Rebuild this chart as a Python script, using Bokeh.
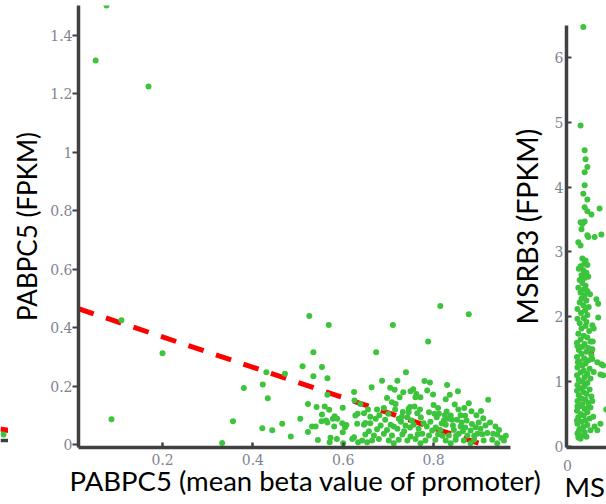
from bokeh.plotting import figure
from bokeh.layouts import row
from bokeh.models import Range1d, FixedTicker, CustomJSTickFormatter, Title
from bokeh.embed import file_html
from bokeh.resources import INLINE

# ---------------- data ----------------
# main panel: PABPC5 expression vs promoter methylation (beta, FPKM)
pab_points = [
    (0.076, 1.503), (0.052, 1.315), (0.169, 1.226), (0.109, 0.425), (0.200, 0.312),
    (0.087, 0.086), (0.332, 0.005), (0.356, 0.080), (0.380, 0.193), (0.422, 0.205),
    (0.430, 0.247), (0.433, 0.158), (0.421, 0.056), (0.443, 0.049), (0.465, 0.071),
    (0.471, 0.242), (0.484, 0.027), (0.505, 0.088), (0.510, 0.268), (0.522, 0.043),
    (0.522, 0.139), (0.525, 0.440), (0.531, 0.062), (0.534, 0.316), (0.534, 0.234),
    (0.539, 0.062), (0.541, 0.128), (0.544, 0.015), (0.553, 0.265), (0.553, 0.103),
    (0.552, 0.080), (0.559, 0.130), (0.562, 0.082), (0.565, 0.227), (0.565, 0.075),
    (0.568, 0.409), (0.565, 0.170), (0.569, 0.119), (0.572, 0.023), (0.570, 0.008),
    (0.577, 0.088), (0.580, 0.062), (0.581, 0.097), (0.587, 0.088), (0.586, 0.019),
    (0.599, 0.126), (0.598, 0.073), (0.604, 0.059), (0.599, 0.042), (0.607, 0.067),
    (0.624, 0.180), (0.625, 0.151), (0.627, 0.099), (0.620, 0.019), (0.624, 0.025),
    (0.632, 0.105), (0.633, 0.008), (0.600, 0.004), (0.638, 0.139), (0.646, 0.107),
    (0.649, 0.074), (0.631, 0.071), (0.748, 0.128),
    (0.815, 0.474), (0.878, 0.446), (0.710, 0.409), (0.788, 0.353), (0.673, 0.316),
    (0.739, 0.247), (0.686, 0.218), (0.720, 0.218), (0.780, 0.217), (0.792, 0.212),
    (0.830, 0.204), (0.663, 0.196), (0.704, 0.194), (0.714, 0.187), (0.733, 0.179),
    (0.749, 0.182), (0.755, 0.189), (0.762, 0.173), (0.786, 0.185), (0.799, 0.171),
    (0.836, 0.170), (0.854, 0.182), (0.697, 0.159), (0.725, 0.162), (0.760, 0.162),
    (0.771, 0.162), (0.827, 0.155), (0.921, 0.153), (0.708, 0.145), (0.716, 0.139),
    (0.847, 0.137), (0.878, 0.141), (0.675, 0.120), (0.732, 0.111), (0.745, 0.122),
    (0.764, 0.107), (0.802, 0.105), (0.812, 0.105), (0.829, 0.113), (0.838, 0.099),
    (0.884, 0.114), (0.870, 0.098), (0.672, 0.088), (0.723, 0.088), (0.742, 0.093),
    (0.778, 0.073), (0.807, 0.093), (0.823, 0.082), (0.841, 0.085), (0.852, 0.085),
    (0.873, 0.082), (0.646, 0.068), (0.660, 0.073), (0.683, 0.065), (0.705, 0.068),
    (0.738, 0.065), (0.756, 0.068), (0.827, 0.068), (0.860, 0.062), (0.893, 0.059),
    (0.937, 0.062), (0.697, 0.050), (0.720, 0.054), (0.767, 0.054), (0.797, 0.048),
    (0.815, 0.050), (0.845, 0.050), (0.882, 0.048), (0.904, 0.054), (0.649, 0.034),
    (0.668, 0.031), (0.690, 0.037), (0.708, 0.031), (0.731, 0.034), (0.749, 0.027),
    (0.775, 0.037), (0.790, 0.031), (0.810, 0.034), (0.834, 0.031), (0.856, 0.037),
    (0.875, 0.031), (0.897, 0.037), (0.919, 0.039), (0.932, 0.037), (0.941, 0.034),
    (0.642, 0.014), (0.664, 0.014), (0.679, 0.019), (0.701, 0.014), (0.723, 0.016),
    (0.742, 0.014), (0.760, 0.019), (0.782, 0.014), (0.804, 0.016), (0.827, 0.014),
    (0.849, 0.016), (0.867, 0.014), (0.890, 0.016), (0.911, 0.014), (0.930, 0.016),
    (0.956, 0.014), (0.653, 0.008), (0.712, 0.004), (0.771, 0.004), (0.838, 0.004),
    (0.882, 0.004), (0.941, 0.004),
    (0.657, 0.045), (0.675, 0.052), (0.693, 0.085), (0.712, 0.062), (0.728, 0.078),
    (0.735, 0.045), (0.748, 0.058), (0.752, 0.082), (0.765, 0.035), (0.772, 0.092),
    (0.785, 0.062), (0.793, 0.078), (0.805, 0.058), (0.818, 0.072), (0.820, 0.030),
    (0.832, 0.088), (0.843, 0.065), (0.850, 0.030), (0.862, 0.075), (0.865, 0.045),
    (0.870, 0.058), (0.885, 0.070), (0.890, 0.030), (0.900, 0.075), (0.908, 0.035),
    (0.915, 0.065), (0.925, 0.075), (0.945, 0.050), (0.950, 0.022), (0.960, 0.030),
    (0.700, 0.105), (0.715, 0.120), (0.730, 0.095), (0.745, 0.110), (0.758, 0.130),
    (0.770, 0.120), (0.790, 0.110), (0.800, 0.135), (0.810, 0.125), (0.825, 0.100),
    (0.855, 0.120), (0.860, 0.100), (0.868, 0.125), (0.895, 0.100), (0.905, 0.115),
    (0.910, 0.090), (0.680, 0.100), (0.690, 0.125), (0.655, 0.120), (0.660, 0.095),
]
pab_beta = [p[0] for p in pab_points]
pab_fpkm = [p[1] for p in pab_points]
pab_fit_beta = [0.014, 0.92]
pab_fit_fpkm = [0.465, -0.006]
pab_yticks = [0, 0.2, 0.4, 0.6, 0.8, 1, 1.2, 1.4]
pab_xticks = [0.2, 0.4, 0.6, 0.8]

# right panel: MSRB3 (partially visible)
msr_points = [
    (0.035, 6.47), (0.029, 4.95), (0.038, 4.57), (0.040, 4.43), (0.044, 4.31),
    (0.038, 4.23), (0.038, 4.03), (0.035, 3.90), (0.044, 3.81), (0.038, 3.69),
    (0.071, 3.67), (0.044, 3.63), (0.053, 3.58), (0.029, 3.46), (0.038, 3.47),
    (0.033, 3.43), (0.031, 3.35), (0.075, 3.27), (0.044, 3.26), (0.060, 3.23),
    (0.046, 3.23), (0.024, 3.15), (0.029, 3.10),
    (0.033, 2.90), (0.040, 2.87), (0.037, 2.82), (0.029, 2.78), (0.044, 2.80),
    (0.025, 2.74), (0.035, 2.72), (0.042, 2.68), (0.031, 2.64), (0.038, 2.60),
    (0.027, 2.57), (0.046, 2.62), (0.033, 2.52), (0.040, 2.48), (0.024, 2.45),
    (0.036, 2.42), (0.044, 2.40), (0.029, 2.37), (0.050, 2.35), (0.038, 2.33),
    (0.031, 2.28), (0.042, 2.25), (0.027, 2.22), (0.035, 2.18), (0.047, 2.15),
    (0.022, 2.12), (0.039, 2.10), (0.030, 2.06), (0.044, 2.03), (0.022, 1.97),
    (0.036, 1.98), (0.064, 2.27), (0.068, 2.20), (0.068, 1.99), (0.055, 1.87),
    (0.058, 1.82),
    (0.027, 1.90), (0.040, 1.86), (0.031, 1.82), (0.048, 1.78), (0.024, 1.74),
    (0.036, 1.71), (0.044, 1.68), (0.029, 1.65), (0.051, 1.62), (0.021, 1.60),
    (0.038, 1.58), (0.033, 1.54), (0.046, 1.52), (0.025, 1.49), (0.042, 1.46),
    (0.031, 1.43), (0.053, 1.41), (0.021, 1.38), (0.037, 1.36), (0.047, 1.33),
    (0.027, 1.31), (0.040, 1.28), (0.033, 1.25), (0.022, 1.22), (0.049, 1.20),
    (0.036, 1.17), (0.029, 1.14), (0.044, 1.12), (0.021, 1.10), (0.038, 1.07),
    (0.051, 1.05), (0.025, 1.03), (0.033, 1.00), (0.066, 1.30), (0.075, 1.27),
    (0.079, 1.25), (0.073, 1.11), (0.079, 1.10), (0.055, 1.50), (0.056, 1.62),
    (0.058, 1.15), (0.022, 1.55), (0.023, 1.30), (0.055, 1.35), (0.042, 1.92),
    (0.044, 0.98), (0.022, 0.95), (0.038, 0.93), (0.029, 0.90), (0.049, 0.88),
    (0.021, 0.86), (0.035, 0.84), (0.042, 0.81), (0.025, 0.79), (0.053, 0.77),
    (0.031, 0.74), (0.040, 0.72), (0.022, 0.70), (0.046, 0.67), (0.033, 0.65),
    (0.027, 0.62), (0.051, 0.60), (0.038, 0.58), (0.021, 0.55), (0.044, 0.53),
    (0.029, 0.50), (0.036, 0.48), (0.024, 0.45), (0.049, 0.43), (0.040, 0.40),
    (0.031, 0.38), (0.022, 0.35), (0.044, 0.33), (0.035, 0.30), (0.027, 0.27),
    (0.051, 0.25), (0.038, 0.22), (0.022, 0.20), (0.033, 0.17), (0.042, 0.15),
    (0.029, 0.12), (0.024, 0.14), (0.025, 0.24), (0.047, 0.62), (0.055, 0.70),
    (0.057, 0.46), (0.022, 0.62), (0.021, 0.40), (0.073, 0.35), (0.060, 0.31),
    (0.066, 0.25), (0.086, 0.57),
]
msr_beta = [p[0] for p in msr_points]
msr_fpkm = [p[1] for p in msr_points]
msr_fit_beta = [0.048, 0.058]
msr_fit_fpkm = [1.45, 1.43]
msr_yticks = [0, 1, 2, 3, 4, 5, 6]
msr_xticks = [0]

# left panel sliver (edge of previous panel)
left_beta = [0.9466]
left_fpkm = [0.0103]
left_fit_beta = [0.940, 0.9577]
left_fit_fpkm = [0.0291, 0.0240]

# ---------------- style ----------------
GREEN = "#3cc43c"
RED = "#ff0000"
AXIS = "#404040"
TICKLAB = "#7d8591"
LABEL_FONT = "Lato"
TICK_FONT = "DejaVu Serif"
H = 504
TOP = 5
BOTTOM = 57

fmt = CustomJSTickFormatter(code="return (Math.round(tick*10)/10).toString();")


def base_fig(width, x_range, y_range, bl, br):
    f = figure(width=width, height=H, x_range=x_range, y_range=y_range, title=None,
               output_backend="svg", toolbar_location=None,
               min_border_left=bl, min_border_right=br,
               min_border_top=TOP, min_border_bottom=BOTTOM)
    f.outline_line_color = None
    f.xgrid.visible = False
    f.ygrid.visible = False
    return f


def style_axis(ax):
    ax.axis_line_color = AXIS
    ax.axis_line_width = 3.5
    ax.major_tick_line_color = AXIS
    ax.minor_tick_line_color = None
    ax.major_label_text_font = TICK_FONT
    ax.major_label_text_font_size = "14px"
    ax.major_label_text_color = TICKLAB
    ax.axis_label_text_font = LABEL_FONT
    ax.axis_label_text_font_size = "26px"
    ax.axis_label_text_font_style = "normal"
    ax.axis_label_text_color = "black"
    ax.formatter = fmt


def xlabel(text, offset):
    return Title(text=text, align="left", offset=offset, standoff=-7,
                 vertical_align="top", text_font=LABEL_FONT, text_font_size="27.5px",
                 text_font_style="normal", text_color="black")


# ---- left sliver ----
pl = base_fig(8, Range1d(0.940, 0.9577), Range1d(-0.0342, 1.4789), 0, 0)
pl.yaxis.visible = False
style_axis(pl.xaxis[0])
pl.xaxis.ticker = FixedTicker(ticks=[])
pl.xaxis.fixed_location = -0.0103
pl.line(left_fit_beta, left_fit_fpkm, line_color=RED, line_width=5)
pl.scatter(left_beta, left_fpkm, size=6, fill_color=GREEN, line_color=None)

# ---- main panel ----
p = base_fig(537, Range1d(0.014, 0.9704), Range1d(-0.0103, 1.503), 70, 35)
style_axis(p.xaxis[0])
style_axis(p.yaxis[0])
p.xaxis.ticker = FixedTicker(ticks=pab_xticks)
p.yaxis.ticker = FixedTicker(ticks=pab_yticks)
p.xaxis.major_tick_in = 5
p.xaxis.major_tick_out = 0
p.xaxis.major_tick_line_width = 2.5
p.xaxis.major_label_standoff = 6
p.yaxis.major_tick_in = 0
p.yaxis.major_tick_out = 6
p.yaxis.major_tick_line_width = 2
p.yaxis.major_label_standoff = 0
p.yaxis.axis_label = "PABPC5 (FPKM)"
p.yaxis.axis_label_standoff = 4

p.line(pab_fit_beta, pab_fit_fpkm, line_color=RED, line_width=5, line_dash="16 13")
p.scatter(pab_beta, pab_fpkm, size=6, fill_color=GREEN, line_color=None)
p.add_layout(xlabel("PABPC5 (mean beta value of promoter)", -9), "below")

# ---- right panel (overlaps the main panel's empty right border) ----
pr = base_fig(104, Range1d(-0.0022, 0.0864), Range1d(-0.0154, 6.802), 64, 0)
pr.margin = (0, 0, 0, -43)
pr.border_fill_color = None
pr.background_fill_color = None
style_axis(pr.xaxis[0])
style_axis(pr.yaxis[0])
pr.xaxis.ticker = FixedTicker(ticks=msr_xticks)
pr.yaxis.ticker = FixedTicker(ticks=msr_yticks)
pr.yaxis.bounds = (-0.0154, 6.494)
pr.xaxis.major_tick_line_color = None
pr.xaxis.major_label_standoff = 6
pr.yaxis.major_tick_in = 5
pr.yaxis.major_tick_out = 0
pr.yaxis.major_tick_line_width = 2
pr.yaxis.major_label_standoff = 3
pr.yaxis.axis_label = "MSRB3 (FPKM)"
pr.yaxis.axis_label_text_font_size = "28.5px"
pr.yaxis.axis_label_standoff = 8

pr.line(msr_fit_beta, msr_fit_fpkm, line_color=RED, line_width=5)
pr.scatter(msr_beta, msr_fpkm, size=6, fill_color=GREEN, line_color=None)
pr.add_layout(xlabel("MSRB3 (mean beta value of promoter)", -2), "below")

layout = row(pl, p, pr)
open("out.html", "w").write(file_html(layout, INLINE))
